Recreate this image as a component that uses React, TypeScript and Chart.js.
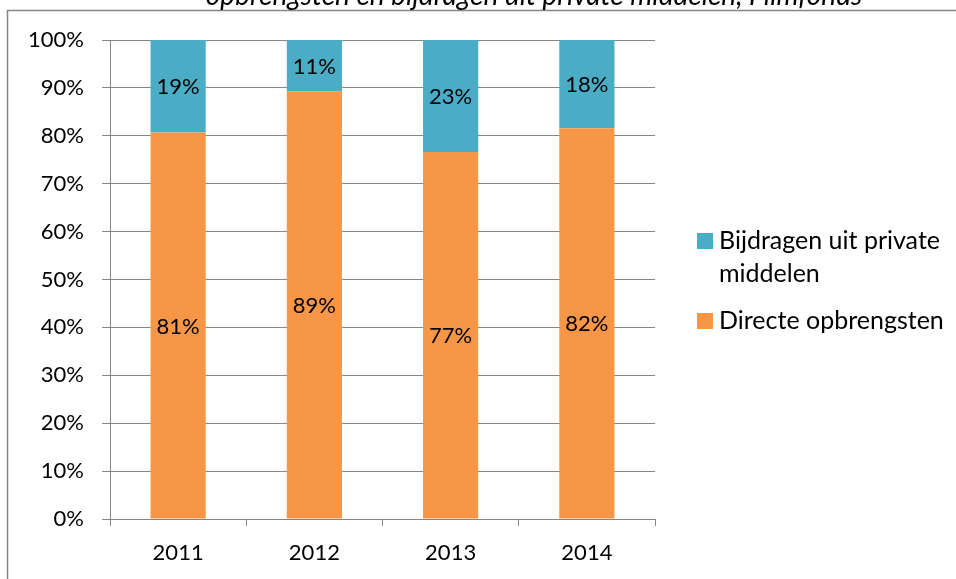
import React, { useEffect, useRef } from "react";
import { Chart, registerables } from "chart.js";

Chart.register(...registerables);

const years = ["2011", "2012", "2013", "2014"];
const directeOpbrengsten = [80.7, 89.3, 76.6, 81.6];
const bijdragenPrivate = [19.3, 10.7, 23.4, 18.4];
const seriesNames = ["Directe opbrengsten", "Bijdragen uit private middelen"];
const legendLines = [["Bijdragen uit private", "middelen"], ["Directe opbrengsten"]];
const titleText = "opbrengsten en bijdragen uit private middelen, Filmfonds";

const ORANGE = "#F79646";
const BLUE = "#4BACC6";
const GRID = "#868686";
const FONT = "Lato, 'Open Sans', sans-serif";

const decorPlugin = {
  id: "decor",
  beforeDraw(chart: any) {
    const ctx = chart.ctx;
    ctx.save();
    ctx.fillStyle = "#ffffff";
    ctx.fillRect(0, 0, chart.width, chart.height);
    // frame
    ctx.strokeStyle = GRID;
    ctx.lineWidth = 1.5;
    ctx.beginPath();
    ctx.moveTo(7.5, chart.height);
    ctx.lineTo(7.5, 10.5);
    ctx.lineTo(chart.width, 10.5);
    ctx.stroke();
    // title (clipped at top)
    ctx.fillStyle = "#000";
    ctx.font = "italic 28px " + FONT;
    ctx.textAlign = "center";
    ctx.textBaseline = "alphabetic";
    ctx.fillText(titleText, 534, 5);
    ctx.restore();
  },
  afterDatasetsDraw(chart: any) {
    const ctx = chart.ctx;
    ctx.save();
    ctx.fillStyle = "#000";
    ctx.font = "22px " + FONT;
    ctx.textAlign = "center";
    ctx.textBaseline = "middle";
    chart.data.datasets.forEach((ds: any, di: number) => {
      const meta = chart.getDatasetMeta(di);
      meta.data.forEach((el: any, i: number) => {
        const p = el.getProps(["x", "y", "base"], true);
        const v = ds.data[i];
        ctx.fillText(Math.round(v) + "%", p.x, (p.y + p.base) / 2 + 1);
      });
    });
    ctx.restore();
  },
  afterDraw(chart: any) {
    const ctx = chart.ctx;
    ctx.save();
    ctx.font = "25px " + FONT;
    ctx.textAlign = "left";
    ctx.textBaseline = "alphabetic";
    const colors = [BLUE, ORANGE];
    const starts = [249, 329];
    legendLines.forEach((lines, k) => {
      const base = starts[k];
      ctx.fillStyle = colors[k];
      ctx.fillRect(697, base - 16, 16, 16);
      ctx.fillStyle = "#000";
      lines.forEach((t, j) => ctx.fillText(t, 719, base + j * 33));
    });
    ctx.restore();
  },
};

export default function App() {
  const ref = useRef<HTMLCanvasElement>(null);
  useEffect(() => {
    if (!ref.current) return;
    const chart = new Chart(ref.current, {
      type: "bar",
      data: {
        labels: years,
        datasets: [
          {
            label: seriesNames[0],
            data: directeOpbrengsten,
            backgroundColor: ORANGE,
            barPercentage: 0.405,
            categoryPercentage: 1,
          },
          {
            label: seriesNames[1],
            data: bijdragenPrivate,
            backgroundColor: BLUE,
            barPercentage: 0.405,
            categoryPercentage: 1,
          },
        ],
      },
      options: {
        animation: false,
        responsive: false,
        maintainAspectRatio: false,
        layout: { padding: { left: 10, right: 301, top: 40, bottom: 0 } },
        plugins: {
          legend: { display: false },
          tooltip: { enabled: false },
          title: { display: false },
        },
        scales: {
          x: {
            stacked: true,
            grid: {
              display: true,
              drawOnChartArea: false,
              drawTicks: true,
              tickLength: 7,
              color: GRID,
              offset: true,
            },
            border: { display: true, color: GRID, width: 1 },
            ticks: { color: "#000", font: { family: FONT, size: 22 }, padding: 14 },
            afterFit(scale: any) {
              scale.height = 60;
            },
          },
          y: {
            stacked: true,
            min: 0,
            max: 100,
            grid: { color: GRID, tickLength: 8, lineWidth: 1 },
            border: { display: true, color: GRID, width: 1 },
            ticks: {
              stepSize: 10,
              color: "#000",
              padding: 18,
              font: { family: FONT, size: 22 },
              callback: (v: any) => v + "%",
            },
            afterFit(scale: any) {
              scale.width = 100;
            },
          },
        },
      },
      plugins: [decorPlugin],
    });
    return () => chart.destroy();
  }, []);
  return (
    <div style={{ position: "fixed", left: 0, top: 0, width: 956, height: 579, background: "#fff" }}>
      <canvas ref={ref} width={956} height={579} style={{ width: 956, height: 579, display: "block" }} />
    </div>
  );
}
